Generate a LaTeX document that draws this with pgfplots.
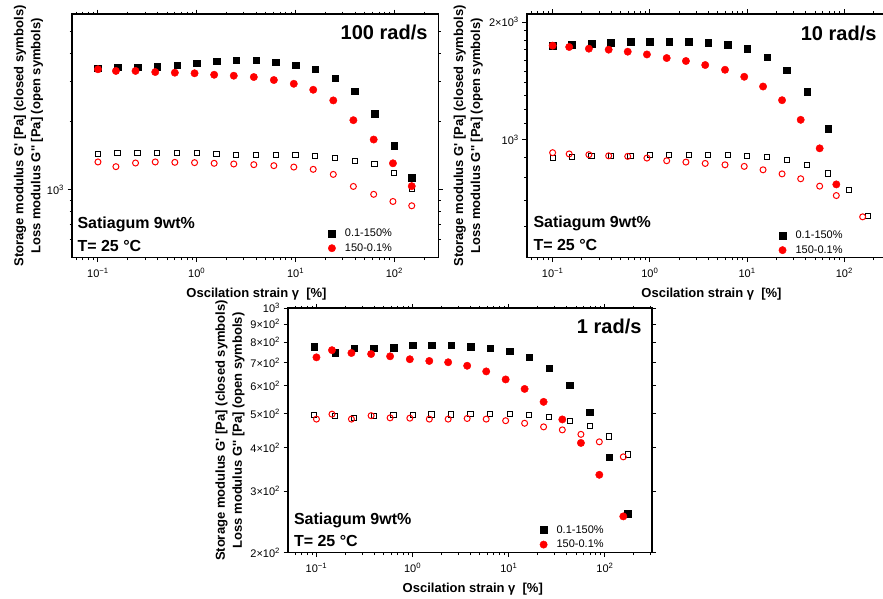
\documentclass[border=0pt]{standalone}
\usepackage{fontspec}
\setmainfont{Liberation Sans}
\usepackage{pgfplots}
\pgfplotsset{compat=1.18}

\definecolor{ptred}{RGB}{255,0,0}

\newcommand{\tenp}[1]{10\textsuperscript{#1}}
\newcommand{\gp}{G\textquotesingle}
\newcommand{\gpp}{G\textquotesingle\textquotesingle}

% marker styles
\tikzset{
  gclosed/.style={mark=square*, mark size=3.3pt, mark options={draw=black, fill=black}},
  gopen/.style={mark=square, mark size=2.6pt, mark options={draw=black, line width=1pt}},
  rclosed/.style={mark=*, mark size=3.7pt, mark options={draw=ptred, fill=ptred}},
  ropen/.style={mark=o, mark size=3pt, mark options={draw=ptred, line width=1pt}},
}

% single centred marker as legend image, with a little room on both sides
\pgfplotsset{
  /pgfplots/legmark/.style={/pgfplots/legend image code/.code={%
    \path[draw=none, fill=none] (0pt,0pt) -- (22pt,0pt);
    \draw[##1, draw=none] plot coordinates {(11pt,0pt)};}},
}

\pgfplotsset{
  every axis/.append style={
    scale only axis,
    axis line style={line width=1.6pt},
    tick align=outside,
    major tick length=4.5pt,
    minor tick length=2.5pt,
    tick style={black, line width=1pt},
    xtick={0.1,1,10,100},
    xticklabels={\tenp{−1},\tenp{0},\tenp{1},\tenp{2}},
    minor xtick={0.06,0.07,0.08,0.09,0.2,0.3,0.4,0.5,0.6,0.7,0.8,0.9,
                 2,3,4,5,6,7,8,9,20,30,40,50,60,70,80,90,200,300},
    tick label style={font=\fontsize{11}{13}\selectfont},
    xticklabel style={yshift=-2.5pt},
    clip marker paths=true,
    legend cell align=left,
    legend style={draw=none, fill=none, inner sep=0pt, row sep=1.5pt,
      font=\fontsize{11}{13}\selectfont},
  },
}

\begin{document}
\begin{tikzpicture}[x=1pt,y=1pt]

% ---------------- 100 rad/s ----------------
\begin{axis}[xmode=log, ymode=log, at={(72pt,340.3pt)}, anchor=south west,
  width=366.3pt, height=243.7pt,
  xmin=0.0546, xmax=278.6, ymin=500, ymax=6000,
  ytick={1000}, yticklabels={\tenp{3}},
  minor ytick={600,700,800,900,2000,3000,4000,5000},
  legend style={at={(axis description cs:0.679,0.127)}, anchor=north west}]
\addplot[only marks, gclosed, legmark] coordinates {
 (0.1,3450) (0.158,3485) (0.251,3485) (0.398,3506) (0.631,3556) (1,3631)
 (1.585,3706) (2.512,3743) (3.981,3743) (6.31,3667) (10,3556) (15.85,3414)
 (25.12,3113) (39.81,2727) (63.1,2168) (100,1569) (150,1131)};
\addlegendentry{0.1-150\%}
\addplot[only marks, gopen, forget plot] coordinates {
 (0.1,1445) (0.158,1454) (0.251,1454) (0.398,1460) (0.631,1454) (1,1450)
 (1.585,1439) (2.512,1430) (3.981,1430) (6.31,1430) (10,1425) (15.85,1410)
 (25.12,1387) (39.81,1345) (63.1,1296) (100,1190) (150,1006)};
\addplot[only marks, rclosed, legmark] coordinates {
 (0.1,3414) (0.152,3357) (0.24,3357) (0.38,3320) (0.6,3298) (0.95,3278)
 (1.5,3229) (2.37,3198) (3.78,3155) (6.03,3060) (9.6,2945) (15.1,2770)
 (24.1,2486) (38.5,2032) (61.8,1668) (96.8,1309) (150,1037)};
\addlegendentry{150-0.1\%}
\addplot[only marks, ropen, forget plot] coordinates {
 (0.1,1327) (0.152,1265) (0.24,1313) (0.38,1327) (0.6,1322) (0.95,1318)
 (1.5,1309) (2.37,1300) (3.78,1291) (6.03,1278) (9.6,1260) (15.1,1231)
 (24.1,1169) (38.5,1034) (61.8,954) (96.8,887) (150,849)};
\end{axis}

% ---------------- 10 rad/s ----------------
\begin{axis}[xmode=log, ymode=log, at={(526.7pt,340.3pt)}, anchor=south west,
  width=360.3pt, height=243.7pt,
  xmin=0.0541, xmax=275, ymin=500, ymax=2100,
  ytick={1000,2000}, yticklabels={\tenp{3},2×\tenp{3}},
  minor ytick={600,700,800,900,1100,1200,1300,1400,1500,1600,1700,1800,1900},
  legend style={at={(axis description cs:0.679,0.119)}, anchor=north west}]
\addplot[only marks, gclosed, legmark] coordinates {
 (0.1,1743) (0.158,1753) (0.251,1760) (0.398,1771) (0.631,1781) (1,1781)
 (1.585,1781) (2.512,1781) (3.981,1771) (6.31,1750) (10,1709) (16.1,1630)
 (25.7,1510) (41.6,1328) (68.5,1067)};
\addlegendentry{0.1-150\%}
\addplot[only marks, gopen, forget plot] coordinates {
 (0.1,901) (0.158,905) (0.251,908) (0.398,910) (0.631,911) (1,914)
 (1.585,915) (2.512,915) (3.981,915) (6.31,915) (10,911) (16.1,905)
 (25.7,889) (41.6,864) (68.5,821) (112.5,744) (174,638)};
\addplot[only marks, rclosed, legmark] coordinates {
 (0.1,1743) (0.148,1729) (0.236,1712) (0.377,1702) (0.592,1682) (0.933,1655)
 (1.49,1620) (2.35,1592) (3.71,1555) (5.93,1512) (9.35,1451) (14.6,1370)
 (22.9,1264) (35.6,1126) (55.8,952) (82.8,770) (154.5,490)};
\addlegendentry{150-0.1\%}
\addplot[only marks, ropen, forget plot] coordinates {
 (0.1,928) (0.148,921) (0.236,917) (0.377,911) (0.592,908) (0.933,899)
 (1.49,885) (2.35,878) (3.71,871) (5.93,864) (9.35,856) (14.6,839)
 (22.9,819) (35.6,796) (55.8,762) (82.8,721) (154.5,636)};
\end{axis}

% ---------------- 1 rad/s ----------------
\begin{axis}[xmode=log, ymode=log, at={(288pt,45.3pt)}, anchor=south west,
  width=363.7pt, height=244.4pt,
  xmin=0.0506, xmax=306, ymin=200, ymax=1000,
  ytick={200,300,400,500,600,700,800,900,1000},
  yticklabels={2×\tenp{2},3×\tenp{2},4×\tenp{2},5×\tenp{2},6×\tenp{2},
               7×\tenp{2},8×\tenp{2},9×\tenp{2},\tenp{3}},
  legend style={at={(axis description cs:0.672,0.121)}, anchor=north west}]
\addplot[only marks, gclosed, legmark] coordinates {
 (0.095,778) (0.156,748) (0.248,768) (0.394,768) (0.632,771) (1.0,785)
 (1.57,785) (2.52,785) (4.0,778) (6.4,768) (10.2,753) (16.3,724)
 (26.3,674) (42.9,602) (69.3,504) (111,375) (172,259)};
\addlegendentry{0.1-150\%}
\addplot[only marks, gopen, forget plot] coordinates {
 (0.095,495) (0.156,492) (0.248,486) (0.394,493) (0.632,494) (1.0,496)
 (1.57,497) (2.52,497) (4.0,498) (6.4,498) (10.2,499) (16.3,495)
 (26.3,488) (42.9,477) (69.3,461) (111,430) (172,382)};
\addplot[only marks, rclosed, legmark] coordinates {
 (0.1,724) (0.145,759) (0.231,745) (0.37,740) (0.583,729) (0.935,715)
 (1.49,707) (2.34,701) (3.69,685) (5.82,660) (9.27,626) (14.6,588)
 (23.0,540) (36.0,481) (56.2,412) (87.3,334) (155,254)};
\addlegendentry{150-0.1\%}
\addplot[only marks, ropen, forget plot] coordinates {
 (0.1,482) (0.145,498) (0.231,482) (0.37,493) (0.583,486) (0.935,485)
 (1.49,482) (2.34,482) (3.69,484) (5.82,482) (9.27,477) (14.6,469)
 (23.0,458) (36.0,449) (56.2,436) (87.3,415) (155,376)};
\end{axis}

% ---------------- labels and annotations ----------------
\tikzset{
  ylab/.style={rotate=90, align=center, font=\bfseries\fontsize{13}{17}\selectfont},
  xlab/.style={font=\bfseries\fontsize{13}{15}\selectfont},
  ptitle/.style={anchor=east, font=\bfseries\fontsize{20}{22}\selectfont},
  sample/.style={anchor=west, font=\bfseries\fontsize{16}{18}\selectfont},
}

\node[ylab] at (28.5pt,462.1pt) {Storage modulus \gp{} [Pa] (closed symbols)\\Loss modulus \gpp{} [Pa] (open symbols)};
\node[ylab] at (468.3pt,462.1pt) {Storage modulus \gp{} [Pa] (closed symbols)\\Loss modulus \gpp{} [Pa] (open symbols)};
\node[ylab] at (230pt,167.5pt) {Storage modulus \gp{} [Pa] (closed symbols)\\Loss modulus \gpp{} [Pa] (open symbols)};

\node[xlab] at (256.5pt,304.2pt) {Oscilation strain γ\ \ [\%]};
\node[xlab] at (711.5pt,304.2pt) {Oscilation strain γ\ \ [\%]};
\node[xlab] at (472.8pt,9.2pt) {Oscilation strain γ\ \ [\%]};

\node[ptitle] at (431pt,565.7pt) {100 rad/s};
\node[ptitle] at (880pt,564.7pt) {10 rad/s};
\node[ptitle] at (645pt,271.3pt) {1 rad/s};

\node[sample] at (74pt,374pt) {Satiagum 9wt\%};
\node[sample] at (74pt,352pt) {T= 25 °C};
\node[sample] at (530pt,374.7pt) {Satiagum 9wt\%};
\node[sample] at (530pt,353pt) {T= 25 °C};
\node[sample] at (290.5pt,78pt) {Satiagum 9wt\%};
\node[sample] at (290.5pt,57.3pt) {T= 25 °C};

\pgfresetboundingbox
\path[use as bounding box] (0pt,0pt) rectangle (883pt,598pt);
\end{tikzpicture}
\end{document}
